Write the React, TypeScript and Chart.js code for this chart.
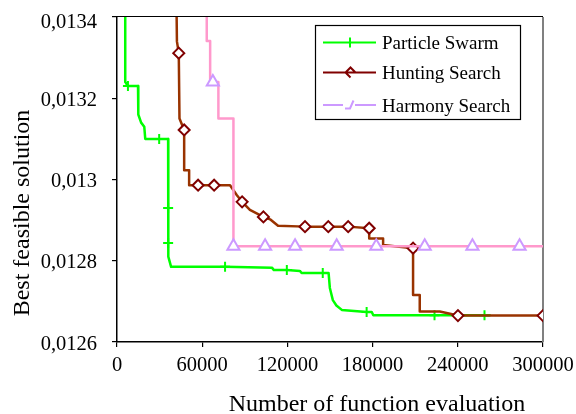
import { useEffect, useRef } from "react";
import { Chart, registerables } from "chart.js";

Chart.register(...registerables);

// Axis ticks
const xTickValues = [0, 60000, 120000, 180000, 240000, 300000];
const xTickLabels = ["0", "60000", "120000", "180000", "240000", "300000"];
const yTickValues = [0.0126, 0.0128, 0.013, 0.0132, 0.0134];
const yTickLabels = ["0,0126", "0,0128", "0,013", "0,0132", "0,0134"];

const seriesNames = ["Particle Swarm", "Hunting Search", "Harmony Search"];
const xTitle = "Number of function evaluation";
const yTitle = "Best feasible solution";

// Particle Swarm convergence history (1 = point carries a marker)
const psEvals = [5800, 5800, 7700, 14800, 15000, 17000, 19200, 19900, 29700, 36000, 36000, 36000, 36400, 38100, 76100, 109100, 110500, 119600, 128800, 130000, 144900, 149000, 149900, 152000, 154500, 158300, 175800, 179400, 180500, 223600, 258800, 262500];
const psValues = [0.0138, 0.01324, 0.01323, 0.01323, 0.01316, 0.01314, 0.01313, 0.0131, 0.0131, 0.0131, 0.01293, 0.012844, 0.01281, 0.012785, 0.012785, 0.012783, 0.012777, 0.012777, 0.012775, 0.01277, 0.01277, 0.01277, 0.012733, 0.012703, 0.01269, 0.012679, 0.012674, 0.012674, 0.012666, 0.012666, 0.012666, 0.012666];
const psMarked = [0, 0, 1, 0, 0, 0, 0, 0, 1, 0, 1, 1, 0, 0, 1, 0, 0, 1, 0, 0, 1, 0, 0, 0, 0, 0, 1, 0, 0, 1, 1, 0];

// Hunting Search convergence history
const hsEvals = [41000, 42200, 43500, 44000, 47300, 47300, 50800, 50800, 57100, 68400, 79600, 84300, 88100, 93600, 103100, 107800, 113400, 132400, 148800, 162800, 177600, 177600, 187400, 187400, 208500, 208500, 213200, 213200, 227300, 240100, 300000];
const hsValues = [0.0137, 0.01334, 0.013311, 0.01315, 0.013122, 0.013023, 0.013023, 0.012986, 0.012986, 0.012986, 0.012986, 0.012962, 0.012945, 0.012925, 0.012908, 0.012902, 0.012886, 0.012884, 0.012884, 0.012884, 0.01288, 0.012855, 0.012855, 0.012839, 0.012831, 0.012716, 0.012716, 0.012675, 0.012675, 0.012665, 0.012665];
const hsMarked = [0, 0, 1, 0, 1, 0, 0, 0, 1, 1, 0, 0, 1, 0, 1, 0, 0, 1, 1, 1, 1, 0, 0, 0, 1, 0, 0, 0, 0, 1, 1];

// Harmony Search convergence history
const hmEvals = [63200, 63200, 65600, 65600, 67500, 71400, 71400, 82000, 82000, 104300, 125400, 154700, 182600, 216700, 250300, 283500, 300000];
const hmValues = [0.0137, 0.013341, 0.013341, 0.01324, 0.01324, 0.01324, 0.01315, 0.01315, 0.012836, 0.012836, 0.012836, 0.012836, 0.012836, 0.012836, 0.012836, 0.012836, 0.012836];
const hmMarked = [0, 0, 0, 0, 1, 0, 0, 0, 1, 1, 1, 1, 1, 1, 1, 1, 0];

const SERIF = '"Liberation Serif", "Times New Roman", serif';

const toPoints = (xs: number[], ys: number[]) => xs.map((x, i) => ({ x, y: ys[i] }));
const radii = (flags: number[], r: number) => flags.map((f) => (f ? r : 0));

// Plot frame (top and right edges) drawn beneath the series
const framePlugin = {
  id: "frame",
  beforeDatasetsDraw(chart: any) {
    const { ctx, chartArea: a } = chart;
    ctx.save();
    ctx.strokeStyle = "#000";
    ctx.lineWidth = 1.2;
    ctx.beginPath();
    ctx.moveTo(a.left, a.top - 0.5);
    ctx.lineTo(a.right, a.top - 0.5);
    ctx.stroke();
    ctx.strokeStyle = "#808080";
    ctx.lineWidth = 2;
    ctx.beginPath();
    ctx.moveTo(a.right, a.top);
    ctx.lineTo(a.right, a.bottom);
    ctx.stroke();
    ctx.restore();
  },
};

// Tick labels, axis titles and the boxed legend
const decorPlugin = {
  id: "decor",
  afterDraw(chart: any) {
    const { ctx, chartArea: a, scales } = chart;
    ctx.save();
    ctx.fillStyle = "#000";
    ctx.font = `20.5px ${SERIF}`;
    ctx.textBaseline = "alphabetic";

    ctx.textAlign = "right";
    yTickValues.forEach((v, i) => {
      const py = scales.y.getPixelForValue(v);
      ctx.fillText(yTickLabels[i], a.left - 20, Math.max(py + 7.5, a.top + 11));
    });
    ctx.textAlign = "center";
    xTickValues.forEach((v, i) => {
      const px = scales.x.getPixelForValue(v);
      ctx.fillText(xTickLabels[i], px, a.bottom + 29);
    });

    ctx.font = `24px ${SERIF}`;
    ctx.fillText(xTitle, 377, 411);
    ctx.save();
    ctx.translate(28.5, 213);
    ctx.rotate(-Math.PI / 2);
    ctx.fillText(yTitle, 0, 0);
    ctx.restore();

    // legend box
    ctx.fillStyle = "#fff";
    ctx.fillRect(315.5, 25.5, 205, 94);
    ctx.strokeStyle = "#000";
    ctx.lineWidth = 1.2;
    ctx.strokeRect(315.5, 25.5, 205, 94);

    const rows = [42.5, 72.5, 105];
    ctx.lineCap = "butt";
    ctx.lineJoin = "miter";

    // Particle Swarm
    ctx.strokeStyle = "#00FF00";
    ctx.lineWidth = 2;
    ctx.beginPath();
    ctx.moveTo(323, rows[0]);
    ctx.lineTo(376, rows[0]);
    ctx.moveTo(350, rows[0] - 5);
    ctx.lineTo(350, rows[0] + 5);
    ctx.stroke();

    // Hunting Search
    ctx.strokeStyle = "#800000";
    ctx.beginPath();
    ctx.moveTo(323, rows[1]);
    ctx.lineTo(376, rows[1]);
    ctx.moveTo(350.5, rows[1] + 5);
    ctx.lineTo(345.5, rows[1]);
    ctx.lineTo(350.5, rows[1] - 5);
    ctx.lineTo(355.5, rows[1]);
    ctx.stroke();

    // Harmony Search
    ctx.strokeStyle = "#CC99FF";
    ctx.beginPath();
    ctx.moveTo(323, rows[2]);
    ctx.lineTo(343, rows[2]);
    ctx.moveTo(355, rows[2]);
    ctx.lineTo(376, rows[2]);
    ctx.moveTo(345, rows[2] + 3.5);
    ctx.lineTo(350, rows[2] + 3.5);
    ctx.lineTo(353.5, rows[2] - 4.5);
    ctx.stroke();

    ctx.fillStyle = "#000";
    ctx.font = `19px ${SERIF}`;
    ctx.textAlign = "left";
    seriesNames.forEach((name, i) => {
      ctx.fillText(name, 382, rows[i] + 6.5);
    });
    ctx.restore();
  },
};

export default function App() {
  const canvasRef = useRef<HTMLCanvasElement | null>(null);

  useEffect(() => {
    const canvas = canvasRef.current;
    if (!canvas) return;
    const chart = new Chart(canvas, {
      type: "scatter",
      data: {
        datasets: [
          {
            label: seriesNames[0],
            data: toPoints(psEvals, psValues),
            showLine: true,
            borderColor: "#00FF00",
            borderWidth: 2.5,
            borderJoinStyle: "round",
            borderCapStyle: "round",
            pointStyle: "cross",
            pointRadius: radii(psMarked, 5),
            pointBorderColor: "#00FF00",
            pointBorderWidth: 2,
            pointBackgroundColor: "#00FF00",
            order: 3,
          },
          {
            label: seriesNames[1],
            data: toPoints(hsEvals, hsValues),
            showLine: true,
            borderColor: "#993300",
            borderWidth: 2.5,
            borderJoinStyle: "round",
            borderCapStyle: "round",
            pointStyle: "rectRot",
            pointRadius: radii(hsMarked, 5.5),
            pointBorderColor: "#800000",
            pointBorderWidth: 2,
            pointBackgroundColor: "#ffffff",
            order: 2,
          },
          {
            label: seriesNames[2],
            data: toPoints(hmEvals, hmValues),
            showLine: true,
            borderColor: "#FF99CC",
            borderWidth: 2.5,
            borderJoinStyle: "round",
            borderCapStyle: "round",
            pointStyle: "triangle",
            pointRadius: radii(hmMarked, 7),
            pointBorderColor: "#CC99FF",
            pointBorderWidth: 2,
            pointBackgroundColor: "#ffffff",
            order: 1,
          },
        ],
      },
      options: {
        animation: false,
        responsive: false,
        devicePixelRatio: 1,
        layout: { padding: { left: 0, top: 17, right: 33, bottom: 0 } },
        plugins: { legend: { display: false }, tooltip: { enabled: false } },
        elements: { line: { tension: 0 } },
        scales: {
          x: {
            type: "linear",
            min: 0,
            max: 300000,
            afterBuildTicks: (s: any) => {
              s.ticks = xTickValues.map((value) => ({ value }));
            },
            afterFit: (s: any) => {
              s.height = 72;
            },
            ticks: { display: false },
            grid: { display: true, drawOnChartArea: false, drawTicks: true, tickLength: 5, color: "#000", lineWidth: 1.2 },
            border: { display: true, color: "#000", width: 1.5 },
          },
          y: {
            type: "linear",
            min: 0.0126,
            max: 0.0134,
            afterBuildTicks: (s: any) => {
              s.ticks = yTickValues.map((value) => ({ value }));
            },
            afterFit: (s: any) => {
              s.width = 117;
            },
            ticks: { display: false },
            grid: { display: true, drawOnChartArea: false, drawTicks: true, tickLength: 5, color: "#000", lineWidth: 1.2 },
            border: { display: true, color: "#000", width: 1.5 },
          },
        },
      },
      plugins: [framePlugin, decorPlugin],
    } as any);
    return () => chart.destroy();
  }, []);

  return (
    <div style={{ position: "absolute", left: 0, top: 0, width: 576, height: 414, background: "#fff" }}>
      <canvas ref={canvasRef} width={576} height={414} />
    </div>
  );
}
